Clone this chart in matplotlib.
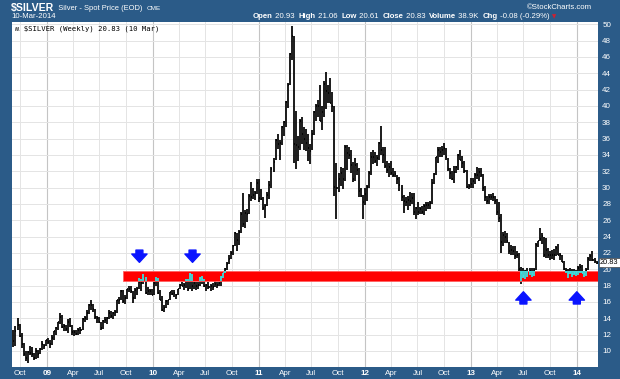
import numpy as np
import pandas as pd
import matplotlib
matplotlib.use('Agg')
import matplotlib.pyplot as plt
import matplotlib.dates as mdates
from matplotlib.collections import LineCollection
from matplotlib.patches import Rectangle

# Weekly bars, $SILVER, first week 8-Sep-2008, last week 10-Mar-2014
high = [
    12.6, 13.0, 14.0, 13.3,  12.2, 11.0, 10.0, 10.0,  10.6, 10.5, 9.7, 10.4,  10.1, 10.4, 11.2, 10.9, 11.4,
    # 2009
    11.6, 11.3, 11.9, 12.5,  12.9, 13.6, 14.6, 14.4,  13.3, 13.2, 13.9, 14.0, 13.2,  12.6, 12.6, 12.8, 12.9,
    14.0, 14.3, 15.0, 15.8,  16.2, 15.8, 15.2, 14.3, 14.2,  13.6, 13.8, 14.2, 14.1,  15.0, 14.9, 14.8, 15.0, 16.3,
    16.6, 17.5, 17.5, 16.8,  17.6, 17.9, 18.0, 17.4,  17.7, 17.8, 18.9, 18.8, 19.4,  19.0, 17.8, 17.6, 17.6,
    # 2010
    18.4, 19.0, 18.9, 17.5,  16.7, 15.6, 16.3, 16.3,  17.2, 17.5, 17.5, 17.0, 17.6,  18.2, 18.4, 18.3, 18.8,
    18.8, 19.5, 19.4, 18.4, 18.5,  18.4, 19.0, 19.2, 18.8,  18.2, 18.5, 18.2, 18.3,  18.6, 18.4, 18.5, 19.2, 19.6,
    20.2, 20.9, 21.7, 22.2,  23.0, 24.6, 24.5, 24.8,  27.0, 29.3, 27.3, 27.4, 29.2,  30.7, 29.9, 29.6, 31.0,
    # 2011
    31.0, 29.8, 28.8, 28.0, 29.5,  30.8, 32.5, 33.6, 36.0,  36.5, 35.8, 37.6, 38.2,  40.6, 42.8, 46.5, 49.8,
    48.5, 39.4, 36.3, 38.4, 38.7,  37.4, 37.2, 36.6, 35.3,  37.0, 39.4, 40.2, 40.7,  42.5, 40.0, 43.1, 44.2, 42.6,
    43.4, 41.7, 40.0, 33.0,  31.8, 32.5, 32.4, 35.2, 35.2,  35.0, 34.6, 33.1, 33.6,  33.0, 32.4, 30.0, 29.1,
    # 2012
    29.9, 30.3, 32.0, 34.3, 34.6,  34.4, 34.0, 35.6, 37.5,  35.0, 35.0, 33.3, 33.0,  33.2, 32.4, 32.0, 31.6, 31.3,
    30.3, 29.1, 28.9, 29.0,  29.4, 29.3, 29.3, 27.6,  28.2, 27.6, 27.8, 28.0, 28.2,  28.2, 28.3, 31.0, 31.8,
    33.8, 35.0, 35.0, 35.1,  35.4, 34.9, 33.6, 32.4, 32.0,  32.6, 32.7, 34.1, 34.6,  33.9, 33.3, 32.2, 30.4, 31.2,
    # 2013
    31.2, 31.8, 32.5, 32.4,  32.4, 31.7, 30.2, 29.0,  29.2, 29.2, 29.3, 29.0,  28.6, 28.2, 26.8, 24.6, 24.7,
    24.4, 23.4, 23.0, 22.8,  22.8, 22.3, 22.0, 20.3,  20.1, 19.9, 20.2, 20.2, 20.1,  20.1, 23.2, 23.5, 25.0,
    24.5, 24.0, 23.8, 22.6, 22.2,  22.4, 22.5, 22.8, 23.1,  22.0, 21.8, 21.0, 20.2,  20.0, 20.1, 20.0, 20.0, 19.9,
    # 2014
    20.4, 20.6, 20.5, 19.8,  20.1, 21.5, 21.9, 22.2,  21.4, 21.06,
]
low = [
    10.5, 10.6, 12.6, 11.7,  10.4, 9.4, 8.8, 8.5,  9.5, 9.3, 8.9, 9.0,  9.2, 9.6, 10.1, 10.2, 10.6,
    # 2009
    10.9, 10.4, 10.7, 11.4,  11.9, 12.6, 13.3, 12.8,  12.5, 12.4, 12.2, 12.9, 12.0,  11.8, 11.9, 11.9, 12.1,
    12.6, 13.5, 13.8, 14.5,  15.0, 14.8, 13.9, 13.4, 13.4,  12.6, 12.7, 13.4, 13.3,  13.9, 14.0, 13.9, 14.3, 14.6,
    15.8, 16.3, 15.9, 15.8,  16.4, 17.2, 17.1, 15.9,  16.4, 16.9, 17.6, 17.3, 18.2,  17.0, 16.8, 16.9, 16.8,
    # 2010
    16.8, 17.9, 17.0, 16.2,  14.9, 14.8, 15.3, 15.6,  16.2, 16.8, 16.6, 16.4, 16.8,  17.6, 17.9, 17.5, 17.7,
    17.4, 17.6, 17.4, 17.6, 17.5,  17.6, 18.0, 18.2, 17.8,  17.4, 17.6, 17.4, 17.5,  17.8, 17.7, 17.9, 18.0, 18.9,
    19.6, 19.9, 20.6, 21.2,  21.8, 22.8, 22.3, 23.0,  24.4, 25.2, 25.0, 25.8, 26.8,  28.3, 28.6, 28.5, 29.2,
    # 2011
    28.2, 28.5, 27.2, 26.3, 27.8,  28.6, 30.0, 31.9, 33.4,  34.7, 33.4, 35.2, 36.3,  37.4, 39.8, 42.6, 45.6,
    33.0, 32.3, 33.2, 34.6, 35.3,  34.6, 34.5, 33.2, 32.9,  34.6, 36.4, 38.2, 38.6,  38.1, 37.0, 38.7, 39.6, 40.4,
    40.4, 39.2, 29.0, 26.1,  29.4, 30.2, 29.8, 30.8, 32.2,  33.5, 31.8, 30.7, 30.8,  31.5, 28.9, 28.9, 26.2,
    # 2012
    27.9, 28.4, 29.9, 31.6, 32.9,  33.0, 32.7, 33.4, 34.0,  33.0, 32.4, 31.8, 31.3,  31.5, 31.3, 31.3, 30.4, 29.6,
    28.3, 26.9, 27.8, 27.3,  27.8, 28.0, 26.7, 26.1,  26.6, 26.8, 26.8, 26.7, 27.1,  27.4, 27.4, 28.0, 30.4,
    31.6, 33.0, 33.8, 33.7,  34.0, 33.4, 32.0, 31.1, 30.9,  30.6, 31.8, 32.2, 33.4,  32.4, 31.8, 29.9, 29.8, 29.9,
    # 2013
    30.0, 30.4, 31.1, 30.8,  31.3, 29.6, 28.4, 28.0,  28.0, 28.5, 28.3, 28.0,  26.6, 25.8, 22.0, 22.9, 23.2,
    23.2, 21.9, 21.7, 21.7,  21.3, 21.4, 19.8, 18.2,  18.9, 18.8, 19.0, 19.3, 19.0,  19.2, 19.9, 22.7, 23.5,
    23.1, 21.5, 21.4, 21.4, 21.1,  21.3, 21.1, 21.6, 21.8,  21.1, 20.9, 19.9, 19.5,  18.9, 19.4, 19.0, 19.3, 19.2,
    # 2014
    19.3, 19.6, 19.5, 19.1,  19.2, 19.9, 21.0, 21.0,  20.8, 20.61,
]
close = [
    11.2, 12.4, 13.2, 11.8,  10.8, 9.6, 9.2, 9.9,  9.8, 9.6, 9.2, 10.0,  9.6, 10.2, 10.8, 10.6, 11.3,
    # 2009
    11.1, 10.8, 11.6, 12.4,  12.8, 13.5, 14.2, 12.9,  13.0, 12.7, 13.6, 13.1, 12.3,  12.3, 12.1, 12.6, 12.6,
    13.9, 14.0, 14.6, 15.6,  15.6, 15.1, 14.2, 14.0, 13.6,  12.8, 13.7, 13.8, 14.0,  14.6, 14.3, 14.6, 14.8, 16.2,
    16.3, 17.4, 16.1, 16.5,  17.6, 17.6, 17.3, 16.5,  17.5, 17.6, 18.4, 18.3, 18.8,  17.1, 17.4, 17.4, 16.9,
    # 2010
    18.3, 18.6, 17.1, 16.2,  15.0, 15.3, 16.1, 16.2,  17.2, 17.0, 17.1, 16.9, 17.6,  18.1, 18.0, 18.1, 18.6,
    17.6, 19.4, 17.9, 18.3, 17.9,  18.1, 18.9, 18.8, 17.9,  18.1, 17.8, 18.0, 17.8,  18.2, 18.1, 18.3, 19.0, 19.5,
    20.0, 20.7, 21.2, 22.0,  22.8, 24.4, 23.6, 24.6,  26.8, 25.6, 26.9, 26.8, 29.0,  28.9, 29.1, 29.3, 30.6,
    # 2011
    28.7, 28.6, 27.5, 27.8, 29.1,  30.3, 32.3, 33.1, 35.8,  35.3, 35.4, 37.4, 38.0,  40.5, 42.6, 46.3, 48.6,
    35.3, 35.2, 35.0, 38.1, 36.5,  35.9, 35.4, 34.8, 34.5,  36.5, 39.3, 40.0, 40.0,  38.2, 39.3, 42.7, 41.8, 41.6,
    40.4, 40.0, 30.1, 30.0,  31.1, 31.8, 31.0, 35.0, 34.2,  34.0, 32.8, 31.0, 32.8,  32.2, 29.6, 29.0, 28.2,
    # 2012
    29.2, 30.1, 31.8, 33.8, 33.8,  33.3, 33.6, 35.4, 34.6,  34.0, 32.7, 32.1, 32.5,  31.8, 31.6, 31.7, 31.1, 30.3,
    28.9, 28.4, 28.2, 28.5,  28.3, 28.7, 27.0, 27.5,  27.0, 27.4, 27.0, 27.7, 27.9,  27.9, 28.1, 30.6, 31.7,
    33.7, 34.6, 34.3, 34.6,  34.8, 33.8, 32.3, 31.8, 31.1,  31.9, 32.5, 34.0, 33.4,  33.0, 32.0, 30.1, 30.2, 30.4,
    # 2013
    30.8, 31.5, 31.6, 31.9,  31.5, 29.9, 28.9, 28.3,  28.8, 28.9, 28.8, 28.3,  27.0, 26.3, 23.4, 24.2, 23.9,
    23.5, 22.2, 22.4, 22.2,  21.6, 21.7, 20.0, 19.6,  19.2, 19.8, 19.5, 19.8, 19.4,  19.9, 23.0, 23.5, 23.7,
    24.1, 21.7, 22.4, 21.7, 21.7,  21.7, 21.8, 22.6, 21.8,  21.7, 20.9, 20.0, 19.8,  19.5, 19.7, 19.4, 19.5, 19.5,
    # 2014
    20.2, 20.3, 19.6, 19.4,  19.9, 21.3, 21.6, 21.1,  21.0, 20.83,
]

# support zone and annotation arrows
band_start = '2009-09-22'
band_low, band_high = 18.6, 19.85
down_arrow_dates = ['2009-11-16', '2010-05-18']
up_arrow_dates = ['2013-07-01', '2014-01-01']

x_labels = ['Oct', '09', 'Apr', 'Jul', 'Oct', '10', 'Apr', 'Jul', 'Oct', '11', 'Apr', 'Jul',
            'Oct', '12', 'Apr', 'Jul', 'Oct', '13', 'Apr', 'Jul', 'Oct', '14']

FRAME = '#2b5b88'
W, H = 620, 379

dates = pd.date_range('2008-09-08', periods=len(close), freq='7D')
xd = mdates.date2num(dates)

fig = plt.figure(figsize=(W / 100, H / 100), dpi=100, facecolor=FRAME)
ax = fig.add_axes([12 / W, 12 / H, 586 / W, 345 / H])
ax.set_facecolor('white')

# bars: high-low line + close tick
segs = [[(x, l), (x, h)] for x, l, h in zip(xd, low, high)]
segs += [[(x, c), (x + 3.5, c)] for x, c in zip(xd, close)]
ax.add_collection(LineCollection(segs, colors='black', linewidths=1.25, zorder=3))

band = Rectangle((mdates.datestr2num(band_start), band_low),
                 mdates.date2num(pd.Timestamp('2014-04-01')) - mdates.datestr2num(band_start),
                 band_high - band_low, facecolor='#ff0000', edgecolor='#ff6060', lw=0.6, zorder=4)
ax.add_patch(band)
cyan = LineCollection(segs, colors='#30e8e8', linewidths=1.25, zorder=5)
ax.add_collection(cyan)
cyan.set_clip_path(band)

arrow_style = 'simple,head_width=1.1,head_length=0.6,tail_width=0.5'
for d in down_arrow_dates:
    ax.annotate('', xy=(mdates.datestr2num(d), 20.85), xytext=(mdates.datestr2num(d), 22.35),
                arrowprops=dict(arrowstyle=arrow_style, color='#0a14ff', shrinkA=0, shrinkB=0), zorder=6)
for d in up_arrow_dates:
    ax.annotate('', xy=(mdates.datestr2num(d), 17.25), xytext=(mdates.datestr2num(d), 15.75),
                arrowprops=dict(arrowstyle=arrow_style, color='#0a14ff', shrinkA=0, shrinkB=0), zorder=6)

ax.set_xlim(mdates.datestr2num('2008-09-03'), mdates.datestr2num('2014-03-15'))
ax.set_ylim(8.04, 50.27)

# axes / grid
ax.yaxis.tick_right()
ax.set_yticks(np.arange(10, 51, 2))
ax.tick_params(axis='y', length=0, pad=3, labelcolor='white', labelsize=5.8)
for t in ax.get_yticklabels():
    t.set_fontfamily('Liberation Sans')

qdates = pd.date_range('2008-10-01', '2014-01-01', freq='QS')
qx = mdates.date2num(qdates)
ax.set_xticks(qx)
ax.set_xticklabels(x_labels)
ax.tick_params(axis='x', length=0, pad=2, labelcolor='white', labelsize=5.8)
for t, lab in zip(ax.get_xticklabels(), x_labels):
    t.set_fontfamily('Liberation Sans')
    if lab.isdigit():
        t.set_fontweight('bold')

ax.grid(axis='y', color='#e4e4e4', lw=0.7, zorder=0)
for q, lab in zip(qx, x_labels):
    ax.axvline(q, color='#c4c4c4' if lab.isdigit() else '#e4e4e4', lw=0.8 if lab.isdigit() else 0.7, zorder=0)
ax.set_axisbelow(True)
for s in ax.spines.values():
    s.set_visible(False)

# last value marker
ax.annotate('20.83', xy=(1.0, close[-1]), xycoords=('axes fraction', 'data'),
            xytext=(1.5, 0), textcoords='offset points', va='center', ha='left',
            fontsize=5.3, family='Liberation Sans', color='black',
            bbox=dict(boxstyle='square,pad=0.15', fc='white', ec='#444444', lw=0.5), annotation_clip=False)

ax.text(3 / 586, 1 - 4 / 345, '\u028d $SILVER (Weekly) 20.83 (10 Mar)', transform=ax.transAxes,
        va='top', ha='left', fontsize=5.2, family='DejaVu Sans Mono', color='black')

# header
fig.canvas.draw()
renderer = fig.canvas.get_renderer()


def chain(x, y, parts, size):
    # write pieces left to right on one baseline
    x = x / W
    for s, weight, fs in parts:
        t = fig.text(x, 1 - y / H, s, color='white', family='Liberation Sans', fontsize=fs or size,
                     fontweight=weight, va='baseline')
        x += t.get_window_extent(renderer).width / W
    return x


chain(11, 10.5, [('$SILVER', 'bold', 7.6), ('  Silver - Spot Price (EOD)  ', 'normal', 5.4),
                 ('CME', 'normal', 4.6)], 5.4)
fig.text(11 / W, 1 - 18.5 / H, '10-Mar-2014', color='white', family='Liberation Sans', fontsize=5.6,
         va='baseline')
fig.text(592 / W, 1 - 9 / H, '\u00a9StockCharts.com', color='white', family='Liberation Sans',
         fontsize=5.6, ha='right', va='baseline')

info = [('Open', 'bold', None), (' 20.93  ', 'normal', None), ('High', 'bold', None),
        (' 21.06  ', 'normal', None), ('Low', 'bold', None), (' 20.61  ', 'normal', None),
        ('Close', 'bold', None), (' 20.83  ', 'normal', None), ('Volume', 'bold', None),
        (' 38.9K  ', 'normal', None), ('Chg', 'bold', None), (' -0.08 (-0.29%)', 'normal', None)]
xend = chain(253, 18.5, info, 5.6)
fig.text(xend + 2 / W, 1 - 18.5 / H, '\u25bc', color='#d02030', fontsize=4, va='baseline')

fig.savefig('out.png', dpi=100, facecolor=FRAME)
